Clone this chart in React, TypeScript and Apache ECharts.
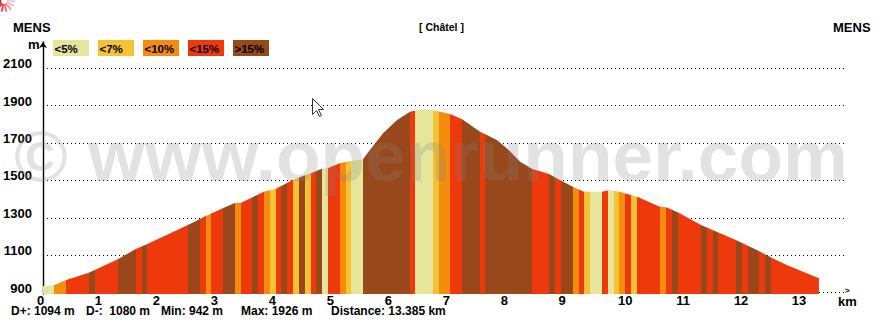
import React, { useEffect, useRef } from "react";
import * as echarts from "echarts";

const gradeLabels = ["<5%", "<7%", "<10%", "<15%", ">15%"];
const gradeColors = ["#E5E59B", "#F4C232", "#F48C0E", "#EE390D", "#99481B"];

const profileKm = [0, 0.19, 0.4, 0.79, 1.29, 1.6, 1.8, 2.5, 2.81, 3.11, 3.31, 3.42, 3.81, 4.02, 4.21, 4.31, 4.43, 4.62, 4.81, 4.92, 5.12, 5.31, 5.52, 5.64, 5.87, 6.11, 6.33, 6.56, 6.73, 7.02, 7.23, 7.54, 7.83, 8.02, 8.23, 8.44, 8.73, 8.94, 9.14, 9.33, 9.64, 9.78, 9.94, 10.25, 10.64, 10.75, 10.95, 11.35, 11.64, 11.95, 12.35, 12.56, 12.83, 13.385];
const profileM = [935, 939, 967, 1006, 1078, 1133, 1160, 1261, 1310, 1352, 1379, 1381, 1440, 1456, 1486, 1502, 1517, 1538, 1563, 1566, 1592, 1604, 1613, 1663, 1754, 1823, 1868, 1882, 1875, 1855, 1827, 1761, 1716, 1667, 1600, 1561, 1534, 1498, 1466, 1440, 1440, 1449, 1440, 1413, 1359, 1356, 1329, 1261, 1222, 1181, 1122, 1088, 1047, 976];

// End of each gradient band (km) and its grade class
const bandEnds = [0.19, 0.4, 0.79, 0.9, 1.29, 1.6, 1.71, 1.8, 2.5, 2.71, 2.81, 2.9, 3.11, 3.31, 3.42, 3.61, 3.71, 3.81, 3.92, 4.02, 4.11, 4.21, 4.31, 4.41, 4.52, 4.62, 4.71, 4.81, 4.92, 5.12, 5.23, 5.31, 5.52, 6.33, 6.42, 6.73, 6.83, 7.02, 7.23, 7.54, 7.62, 8.44, 8.73, 8.83, 8.94, 9.14, 9.25, 9.33, 9.44, 9.64, 9.75, 9.85, 9.94, 10.04, 10.14, 10.25, 10.64, 10.75, 10.85, 10.95, 11.35, 11.46, 11.56, 11.64, 11.95, 12.06, 12.16, 12.35, 12.45, 12.56, 13.4];
const bandGrades = [0, 2, 3, 4, 3, 4, 3, 4, 3, 4, 3, 2, 3, 4, 2, 3, 4, 3, 2, 1, 3, 4, 3, 1, 4, 1, 3, 4, 0, 3, 2, 1, 0, 4, 3, 0, 1, 2, 3, 4, 3, 4, 3, 4, 3, 4, 2, 3, 1, 0, 3, 0, 1, 2, 3, 1, 3, 2, 3, 4, 3, 4, 3, 4, 3, 4, 3, 4, 3, 4, 3];

const kmTicks = [0, 1, 2, 3, 4, 5, 6, 7, 8, 9, 10, 11, 12, 13];
const mTicks = [900, 1100, 1300, 1500, 1700, 1900, 2100];
const summary = [
  { text: "D+: 1094 m", x: 11 },
  { text: "D-:  1080 m", x: 86 },
  { text: "Min: 942 m", x: 161 },
  { text: "Max: 1926 m", x: 241 },
  { text: "Distance: 13.385 km", x: 331 },
];

const FONT = '"Liberation Sans", Arial, sans-serif';

function boldText(text: string, x: number, y: number, size = 12, align = "left") {
  return {
    type: "text",
    x,
    y,
    silent: true,
    style: { text, fill: "#000", font: `bold ${size}px ${FONT}`, align, verticalAlign: "middle" },
  };
}

function spinnerRays() {
  const rays: any[] = [];
  const n = 14;
  for (let i = 0; i < n; i++) {
    const a = (i / n) * Math.PI * 2;
    const f = ((Math.cos(a - 2.9) + 1) / 2) * 0.8 + 0.2;
    rays.push({
      type: "line",
      silent: true,
      shape: {
        x1: 4 + Math.cos(a) * 3,
        y1: 1 + Math.sin(a) * 3,
        x2: 4 + Math.cos(a) * 11,
        y2: 1 + Math.sin(a) * 11,
      },
      style: { stroke: "#f00a18", lineWidth: 1.8, opacity: f },
    });
  }
  return rays;
}

const kmStyle = { color: "#000", fontFamily: FONT, fontWeight: "bold", fontSize: 13 };

export default function App() {
  const ref = useRef<HTMLDivElement>(null);

  useEffect(() => {
    if (!ref.current) return;
    const chart = echarts.init(ref.current, undefined, { renderer: "svg" });
    const pieces = bandEnds.map((end, i) => ({
      gte: i === 0 ? -1 : bandEnds[i - 1],
      lt: end,
      color: gradeColors[bandGrades[i]],
    }));
    const legend = gradeLabels.flatMap((label, i) => [
      {
        type: "rect",
        silent: true,
        shape: { x: 53 + i * 45, y: 40, width: 36, height: 16 },
        style: { fill: gradeColors[i] },
      },
      boldText(label, 54.5 + i * 45, 48.5, 11.5),
    ]);
    chart.setOption({
      animation: false,
      backgroundColor: "#fff",
      textStyle: { fontFamily: FONT },
      grid: { left: 43, right: 33, top: 42, bottom: 28, containLabel: false },
      visualMap: { show: false, type: "piecewise", dimension: 0, seriesIndex: 0, pieces },
      xAxis: {
        type: "value",
        min: 0,
        max: 13.835,
        axisLine: { show: false },
        axisTick: { show: false, customValues: kmTicks },
        splitLine: { show: false },
        axisLabel: {
          customValues: kmTicks,
          ...kmStyle,
          margin: 0,
          formatter: (v: number) => (v < 10 ? `{a|${v}}` : `{b|${v}}`),
          rich: {
            a: { ...kmStyle, padding: [0, 5, 0, 0] },
            b: { ...kmStyle, padding: [0, 0, 0, 5] },
          },
        },
      },
      yAxis: {
        type: "value",
        min: 892,
        max: 2241,
        axisLine: {
          show: true,
          onZero: false,
          symbol: ["none", "arrow"],
          symbolSize: [6, 6],
          lineStyle: { color: "#000", width: 1.4 },
        },
        axisTick: { show: false, customValues: mTicks },
        splitLine: { show: true, lineStyle: { color: "#000", width: 1, type: [1, 3] } },
        axisLabel: {
          customValues: mTicks,
          color: "#000",
          fontFamily: FONT,
          fontWeight: "bold",
          fontSize: 13,
          margin: 11,
          verticalAlign: "bottom",
          lineHeight: 9,
          formatter: (v: number) => String(v),
        },
      },
      series: [
        {
          type: "line",
          data: profileKm.map((km, i) => [km, profileM[i]]),
          showSymbol: false,
          symbol: "none",
          silent: true,
          lineStyle: { width: 0 },
          areaStyle: { opacity: 1 },
          z: 3,
        },
      ],
      graphic: [
        boldText("MENS", 13, 27, 13),
        boldText("MENS", 833, 27, 13),
        boldText("[ Châtel ]", 419, 27, 10.5),
        boldText("m", 28, 44, 13),
        boldText("km", 838, 301, 13),
        boldText(">", 845, 290.5, 8),
        ...legend,
        ...summary.map((s) => boldText(s.text, s.x, 311, 12)),
        ...spinnerRays(),
        {
          type: "text",
          x: 14,
          y: 119,
          silent: true,
          z: 50,
          style: {
            text: "© www.openrunner.com",
            fill: "rgba(128,128,128,0.23)",
            font: `bold 73px ${FONT}`,
            align: "left",
            verticalAlign: "top",
          },
        },
        {
          type: "polygon",
          silent: true,
          z: 60,
          shape: {
            points: [
              [312.5, 98.5],
              [312.5, 114.5],
              [316.5, 110.5],
              [319.5, 116.5],
              [321.5, 115.5],
              [318.5, 109.5],
              [323.5, 109.5],
            ],
          },
          style: { fill: "#fff", stroke: "#333", lineWidth: 1 },
        },
      ],
    });
    return () => chart.dispose();
  }, []);

  return <div ref={ref} style={{ position: "absolute", left: 0, top: 0, width: 878, height: 322 }} />;
}
